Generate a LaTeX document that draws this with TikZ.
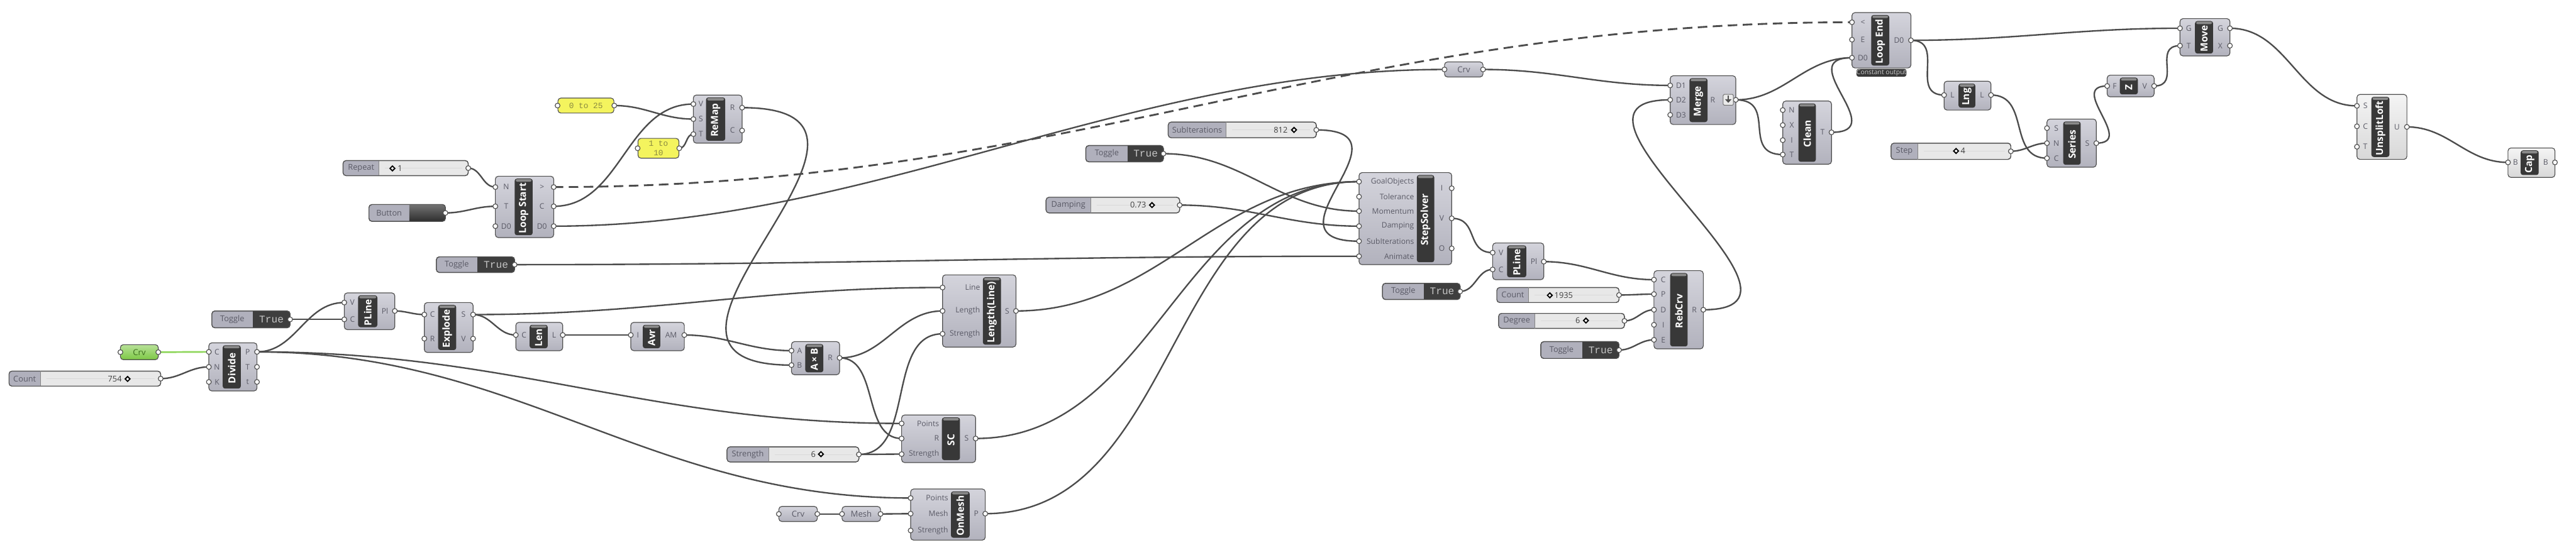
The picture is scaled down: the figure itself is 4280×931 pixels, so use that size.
\documentclass[tikz,border=0pt]{standalone}
\usepackage{fontspec}
\setmainfont{Open Sans}
\newfontfamily\gmono{Liberation Mono}
\usetikzlibrary{calc}
\pgfdeclarelayer{back}
\pgfdeclarelayer{bg}
\pgfsetlayers{back,bg,main}
\definecolor{bodytop}{HTML}{D4D4DC}
\definecolor{bodybot}{HTML}{B2B2BD}
\definecolor{lighttop}{HTML}{F4F4F4}
\definecolor{lightbot}{HTML}{D8D8D8}
\definecolor{edgec}{HTML}{505050}
\definecolor{stripc}{HTML}{383838}
\definecolor{handlec}{HTML}{8A8A8A}
\definecolor{lblc}{HTML}{5A5A66}
\definecolor{wirec}{HTML}{4C4C4C}
\definecolor{slL}{HTML}{B0B0BC}
\definecolor{slV}{HTML}{E8E8E8}
\definecolor{togD}{HTML}{3E3E3E}
\definecolor{togT}{HTML}{C4C4C4}
\definecolor{panY}{HTML}{F4F45E}
\definecolor{panT}{HTML}{8A8A40}
\definecolor{crvG}{HTML}{7DC845}
\definecolor{crvT}{HTML}{3C6E1E}
\definecolor{wireG}{HTML}{8ED65A}
\tikzset{
  gbody/.style={draw=edgec, line width=0.35pt, rounded corners=1.4pt, top color=bodytop, bottom color=bodybot, inner sep=0pt, outer sep=0pt},
  lbody/.style={gbody, top color=lighttop, bottom color=lightbot},
  greenbody/.style={gbody, top color=crvG!55!white, bottom color=crvG, text=crvT},
  sbody/.style={draw=edgec, line width=0.35pt, rounded corners=1.4pt, fill=slV, inner sep=0pt, outer sep=0pt},
  pdot/.style={circle, draw=edgec, fill=white, line width=0.35pt, inner sep=0pt, minimum size=2.3pt},
  plbl/.style={font=\fontsize{3.6}{4}\selectfont, text=lblc, inner sep=0pt},
  stxt/.style={font=\fontsize{4.6}{5}\selectfont\bfseries, text=white, rotate=90, inner sep=0pt},
  slbl/.style={font=\fontsize{3.8}{4}\selectfont, text=lblc, inner sep=0pt},
  sval/.style={font=\fontsize{3.8}{4}\selectfont, text=black!75, inner sep=0pt},
  ttxt/.style={font=\gmono\fontsize{4.8}{5}\selectfont, text=togT, inner sep=0pt},
  ptxt/.style={font=\gmono\fontsize{3.8}{4.6}\selectfont, text=panT, inner sep=0pt, align=center},
  wire/.style={draw=wirec, line width=0.7pt},
  gwire/.style={draw=wireG, line width=0.8pt},
}
% component: name x1 y1 x2 y2 stripx1 stripx2 title style
\newcommand\ghcomp[9]{%
  \def\exa{#2}\def\exb{#4}\def\sxa{#6}\def\sxb{#7}%
  \node[#9, minimum width={(#4-#2)*0.01cm}, minimum height={(#5-#3)*0.01cm}] (#1) at ({(#2+#4)/2},{(#3+#5)/2}) {};
  \fill[stripc, rounded corners=1.1pt] (#6,#3+4) rectangle (#7,#5-4);
  \fill[handlec, rounded corners=0.6pt] (#6+2,#3+5) rectangle (#7-2,#3+9);
  \node[stxt] (#1t) at ({(#6+#7)/2},{(#3+#5)/2+2}) {#8};
}
\newcommand\gin[3]{\coordinate (#1) at (\exa,#2);\node[plbl,anchor=east] (#1l) at (\sxa-4,#2) {#3};\node[pdot] (#1d) at (#1) {};}
\newcommand\gout[3]{\coordinate (#1) at (\exb,#2);\node[plbl,anchor=west] (#1l) at (\sxb+4,#2) {#3};\node[pdot] (#1d) at (#1) {};}
\newcommand\gic[3]{\coordinate (#1) at (\exa,#2);\node[plbl] (#1l) at ({(\exa+\sxa)/2+2},#2) {#3};\node[pdot] (#1d) at (#1) {};}
\newcommand\goc[3]{\coordinate (#1) at (\exb,#2);\node[plbl] (#1l) at ({(\exb+\sxb)/2-2},#2) {#3};\node[pdot] (#1d) at (#1) {};}
% slider: name x1 y1 x2 y2 split label
\newcommand\ghslider[7]{%
  \node[sbody, minimum width={(#4-#2)*0.01cm}, minimum height={(#5-#3)*0.01cm}] (#1) at ({(#2+#4)/2},{(#3+#5)/2}) {};
  \begin{scope}
    \clip[rounded corners=1.4pt] (#2,#3) rectangle (#4,#5);
    \fill[slL] (#2,#3) rectangle (#6,#5);
  \end{scope}
  \draw[edgec, line width=0.35pt, rounded corners=1.4pt] (#2,#3) rectangle (#4,#5);
  \draw[edgec!70, line width=0.3pt] (#6,#3) -- (#6,#5);
  \draw[black!15, line width=0.3pt] (#6+10,{(#3+#5)/2}) -- (#4-10,{(#3+#5)/2});
  \node[slbl] (#1l) at ({(#2+#6)/2},{(#3+#5)/2}) {#7};
  \node[pdot] (#1d) at (#1.east) {};
}
\newcommand\grip[2]{\draw[line width=0.55pt, fill=white] (#1-4,#2) -- (#1,#2-4) -- (#1+4,#2) -- (#1,#2+4) -- cycle;}
% toggle: name x1 y1 x2 y2 split
\newcommand\ghtoggle[6]{%
  \node[sbody, fill=slL, minimum width={(#4-#2)*0.01cm}, minimum height={(#5-#3)*0.01cm}] (#1) at ({(#2+#4)/2},{(#3+#5)/2}) {};
  \begin{scope}
    \clip[rounded corners=1.4pt] (#2,#3) rectangle (#4,#5);
    \fill[togD] (#6,#3) rectangle (#4,#5);
  \end{scope}
  \draw[edgec, line width=0.35pt, rounded corners=1.4pt] (#2,#3) rectangle (#4,#5);
  \node[slbl] (#1l) at ({(#2+#6)/2},{(#3+#5)/2}) {Toggle};
  \node[ttxt] (#1v) at ({(#6+#4)/2},{(#3+#5)/2}) {True};
  \node[pdot] (#1d) at (#1.east) {};
}
\newcommand\ghbutton[6]{%
  \node[sbody, fill=slL, minimum width={(#4-#2)*0.01cm}, minimum height={(#5-#3)*0.01cm}] (#1) at ({(#2+#4)/2},{(#3+#5)/2}) {};
  \begin{scope}
    \clip[rounded corners=1.4pt] (#2,#3) rectangle (#4,#5);
    \fill[top color=black!55, bottom color=black!82] (#6,#3) rectangle (#4,#5);
  \end{scope}
  \draw[edgec, line width=0.35pt, rounded corners=1.4pt] (#2,#3) rectangle (#4,#5);
  \node[slbl] (#1l) at ({(#2+#6)/2},{(#3+#5)/2}) {Button};
  \node[pdot] (#1d) at (#1.east) {};
}
\newcommand\ghpanel[6]{%
  \node[draw=edgec, line width=0.35pt, rounded corners=1.4pt, fill=panY, minimum width={(#4-#2)*0.01cm}, minimum height={(#5-#3)*0.01cm}, ptxt] (#1) at ({(#2+#4)/2},{(#3+#5)/2}) {#6};
  \node[pdot] (#1a) at (#1.west) {};
  \node[pdot] (#1b) at (#1.east) {};
}
\newcommand\ghparam[7]{%
  \node[font=\fontsize{3.9}{4}\selectfont, text=lblc, #7, minimum width={(#4-#2)*0.01cm}, minimum height={(#5-#3)*0.01cm}] (#1) at ({(#2+#4)/2},{(#3+#5)/2}) {#6};
  \node[pdot] (#1a) at (#1.west) {};
  \node[pdot] (#1b) at (#1.east) {};
}
\begin{document}
\begin{tikzpicture}[x=0.01cm,y=-0.01cm]
\useasboundingbox (0,0) rectangle (4280,931);
\begin{pgfonlayer}{back}
\fill[white] (0,0) rectangle (4280,931);
\end{pgfonlayer}

% ---------- left group
\ghparam{crvg}{200}{573}{263}{598}{Crv}{greenbody}
\ghslider{cnt1}{15}{617}{267}{642}{67}{Count}
\node[sval,anchor=east] (cnt1v) at (203,630) {754}; \grip{212}{630}
\ghcomp{div}{347}{570}{427}{650}{370}{400}{Divide}{gbody}
\gic{div-C}{585}{C}\gic{div-N}{610}{N}\gic{div-K}{635}{K}
\goc{div-P}{585}{P}\goc{div-T}{610}{T}\goc{div-t}{635}{t}

\ghslider{rep}{570}{267}{778}{292}{630}{Repeat}
\grip{652}{280}\node[sval,anchor=west] (repv) at (660,280) {1};
\ghbutton{btn}{613}{340}{740}{368}{680}
\ghcomp{ls}{823}{293}{920}{395}{855}{885}{Loop Start}{gbody}
\gic{ls-N}{311}{N}\gic{ls-T}{343}{T}\gic{ls-D0i}{376}{D0}
\goc{ls-gt}{311}{>}\goc{ls-C}{343}{C}\goc{ls-D0}{376}{D0}

\ghpanel{p025}{927}{163}{1020}{188}{0 to 25}
\ghpanel{p110}{1060}{230}{1128}{263}{1 to\\10}
\ghcomp{rm}{1152}{158}{1233}{238}{1173}{1205}{ReMap}{gbody}
\gic{rm-V}{173}{V}\gic{rm-S}{198}{S}\gic{rm-T}{223}{T}
\goc{rm-R}{179}{R}\goc{rm-C}{217}{C}

\ghtoggle{tg1}{352}{517}{482}{545}{420}
\ghcomp{pl1}{572}{487}{656}{548}{595}{627}{PLine}{gbody}
\gic{pl1-V}{503}{V}\gic{pl1-C}{531}{C}\goc{pl1-Pl}{517}{Pl}
\ghcomp{ex}{705}{503}{786}{586}{728}{758}{Explode}{gbody}
\gic{ex-C}{523}{C}\gic{ex-R}{563}{R}\goc{ex-S}{523}{S}\goc{ex-V}{563}{V}
\ghcomp{len}{857}{536}{935}{583}{880}{910}{Len}{gbody}
\gic{len-C}{557}{C}\goc{len-L}{557}{L}
\ghcomp{avr}{1048}{536}{1137}{583}{1068}{1097}{Avr}{gbody}
\gic{avr-I}{557}{I}\goc{avr-AM}{557}{AM}
\ghtoggle{tg2}{725}{427}{855}{453}{793}

\ghcomp{ab}{1315}{568}{1395}{623}{1338}{1368}{A\,×\,B}{gbody}
\gic{ab-A}{583}{A}\gic{ab-B}{607}{B}\goc{ab-R}{595}{R}
\ghcomp{ll}{1566}{457}{1688}{577}{1633}{1663}{Length(Line)}{gbody}
\gin{ll-Line}{478}{Line}\gin{ll-Length}{517}{Length}\gin{ll-Strength}{555}{Strength}\goc{ll-S}{517}{S}
\ghcomp{sc}{1498}{690}{1621}{769}{1565}{1595}{SC}{gbody}
\gin{sc-Points}{704}{Points}\gin{sc-R}{729}{R}\gin{sc-Strength}{755}{Strength}\goc{sc-S}{729}{S}
\ghslider{str}{1208}{743}{1427}{768}{1277}{Strength}
\node[sval,anchor=east] (strv) at (1356,755) {6}; \grip{1364}{755}
\ghcomp{om}{1513}{813}{1637}{898}{1580}{1611}{OnMesh}{gbody}
\gin{om-Points}{828}{Points}\gin{om-Mesh}{854}{Mesh}\gin{om-Strength}{882}{Strength}\goc{om-P}{854}{P}
\ghparam{crv2}{1294}{842}{1358}{867}{Crv}{gbody}
\ghparam{mesh}{1399}{842}{1463}{867}{Mesh}{gbody}

% ---------- solver group
\ghslider{sub}{1941}{203}{2187}{229}{2037}{SubIterations}
\node[sval,anchor=east] (subv) at (2140,216) {812}; \grip{2150}{216}
\ghtoggle{tg3}{1804}{242}{1933}{269}{1874}
\ghslider{damp}{1738}{328}{1960}{354}{1812}{Damping}
\node[sval,anchor=east] (dampv) at (1905,341) {0.73}; \grip{1914}{341}
\ghcomp{ss}{2258}{287}{2412}{440}{2354}{2383}{StepSolver}{gbody}
\gin{ss-GO}{302}{GoalObjects}\gin{ss-Tol}{327}{Tolerance}\gin{ss-Mom}{351}{Momentum}
\gin{ss-Damp}{376}{Damping}\gin{ss-Sub}{401}{SubIterations}\gin{ss-Anim}{426}{Animate}
\goc{ss-I}{313}{I}\goc{ss-V}{363}{V}\goc{ss-O}{413}{O}

\ghcomp{pl2}{2480}{404}{2565}{465}{2504}{2536}{PLine}{gbody}
\gic{pl2-V}{420}{V}\gic{pl2-C}{448}{C}\goc{pl2-Pl}{435}{Pl}
\ghtoggle{tg4}{2297}{471}{2426}{498}{2366}
\ghcomp{rb}{2748}{450}{2830}{580}{2775}{2804}{RebCrv}{gbody}
\gic{rb-C}{465}{C}\gic{rb-P}{489}{P}\gic{rb-D}{515}{D}\gic{rb-I}{540}{I}\gic{rb-E}{565}{E}
\goc{rb-R}{515}{R}
\ghslider{cnt2}{2487}{478}{2690}{503}{2540}{Count}
\grip{2575}{491}\node[sval,anchor=west] (cnt2v) at (2582,491) {1935};
\ghslider{deg}{2490}{521}{2699}{546}{2550}{Degree}
\node[sval,anchor=east] (degv) at (2626,533) {6}; \grip{2635}{533}
\ghtoggle{tg5}{2560}{568}{2690}{596}{2629}

% ---------- loop end group
\ghparam{crv3}{2400}{103}{2464}{128}{Crv}{gbody}
\ghcomp{mg}{2775}{126}{2884}{207}{2807}{2837}{Merge}{gbody}
\gic{mg-D1}{142}{D1}\gic{mg-D2}{166}{D2}\gic{mg-D3}{191}{D3}\gout{mg-R}{166}{R}
\draw[fill=black!8, draw=edgec!80, line width=0.3pt, rounded corners=0.5pt] (2863,157) rectangle (2880,175);
\fill[edgec] (2866,165) -- (2877,165) -- (2871.5,171) -- cycle;
\draw[edgec, line width=0.6pt] (2871.5,159) -- (2871.5,166);
\ghcomp{le}{3077}{21}{3175}{113}{3109}{3139}{Loop End}{gbody}
\gic{le-lt}{37}{<}\gic{le-E}{66}{E}\gic{le-D0i}{96}{D0}\goc{le-D0}{67}{D0}
\node[fill=stripc, rounded corners=1pt, text=white!80!black, font=\fontsize{3.1}{3.4}\selectfont, minimum width={82*0.01cm}, minimum height={13*0.01cm}, inner sep=0pt] (leco) at (3126,121) {Constant output};
\ghcomp{cl}{2962}{168}{3043}{273}{2988}{3017}{Clean}{gbody}
\gic{cl-N}{183}{N}\gic{cl-X}{208}{X}\gic{cl-I}{233}{I}\gic{cl-T}{257}{T}\goc{cl-To}{220}{T}
\ghcomp{lng}{3230}{135}{3308}{183}{3254}{3282}{Lng}{gbody}
\gic{lng-Li}{158}{L}\goc{lng-Lo}{158}{L}
\ghslider{step}{3142}{238}{3341}{265}{3186}{Step}
\grip{3250}{251}\node[sval,anchor=west] (stepv) at (3257,251) {4};
\ghcomp{ser}{3401}{198}{3483}{278}{3428}{3457}{Series}{gbody}
\gic{ser-S}{213}{S}\gic{ser-N}{238}{N}\gic{ser-C}{263}{C}\goc{ser-So}{238}{S}
\ghcomp{zz}{3501}{125}{3579}{161}{3522}{3552}{Z}{gbody}
\gic{zz-F}{143}{F}\goc{zz-V}{143}{V}
\ghcomp{mv}{3622}{31}{3705}{93}{3647}{3677}{Move}{gbody}
\gic{mv-G}{47}{G}\gic{mv-T}{76}{T}\goc{mv-Go}{47}{G}\goc{mv-X}{76}{X}
\ghcomp{ul}{3916}{157}{3999}{265}{3940}{3970}{UnsplitLoft}{lbody}
\gic{ul-S}{176}{S}\gic{ul-C}{210}{C}\gic{ul-T}{244}{T}\goc{ul-U}{211}{U}
\ghcomp{cap}{4167}{246}{4245}{295}{4188}{4218}{Cap}{lbody}
\gic{cap-Bi}{270}{B}\goc{cap-Bo}{270}{B}

% ---------- wires
\begin{pgfonlayer}{bg}
\draw[gwire] (crvg.east) -- (div-C);
\draw[wire] (cnt1.east) to[out=0,in=180] (div-N);
\draw[wire] (div-P) to[out=0,in=180] (pl1-V);
\draw[wire] (div-P) to[out=0,in=180] (sc-Points);
\draw[wire] (div-P) to[out=0,in=180] (om-Points);
\draw[wire] (tg1.east) to[out=0,in=180] (pl1-C);
\draw[wire] (pl1-Pl) to[out=0,in=180] (ex-C);
\draw[wire] (ex-S) to[out=0,in=180] (len-C);
\draw[wire] (ex-S) to[out=0,in=180] (ll-Line);
\draw[wire] (len-L) -- (avr-I);
\draw[wire] (avr-AM) to[out=0,in=180] (ab-A);
\draw[wire] (rm-R) to[out=0,in=180,looseness=2] (ab-B);
\draw[wire] (ab-R) to[out=0,in=180] (ll-Length);
\draw[wire] (ab-R) to[out=0,in=180] (sc-R);
\draw[wire] (str.east) to[out=0,in=180] (sc-Strength);
\draw[wire] (str.east) to[out=0,in=180] (ll-Strength);
\draw[wire] (crv2.east) -- (mesh.west);
\draw[wire] (mesh.east) -- (om-Mesh);
\draw[wire] (ll-S) to[out=0,in=180] (ss-GO);
\draw[wire] (sc-S) to[out=0,in=180] (ss-GO);
\draw[wire] (om-P) to[out=0,in=180] (ss-GO);
\draw[wire] (sub.east) to[out=0,in=180,looseness=2.2] (ss-Sub);
\draw[wire] (tg3.east) to[out=0,in=180] (ss-Mom);
\draw[wire] (damp.east) to[out=0,in=180] (ss-Damp);
\draw[wire] (tg2.east) to[out=0,in=180] (ss-Anim);
\draw[wire] (ss-V) to[out=0,in=180,looseness=1.3] (pl2-V);
\draw[wire] (tg4.east) to[out=0,in=180] (pl2-C);
\draw[wire] (pl2-Pl) to[out=0,in=180] (rb-C);
\draw[wire] (cnt2.east) to[out=0,in=180] (rb-P);
\draw[wire] (deg.east) to[out=0,in=180] (rb-D);
\draw[wire] (tg5.east) to[out=0,in=180] (rb-E);
\draw[wire] (rb-R) to[out=0,in=180,looseness=1.7] (mg-D2);
\draw[wire] (rep.east) to[out=0,in=180] (ls-N);
\draw[wire] (btn.east) to[out=0,in=180] (ls-T);
\draw[wire] (ls-C) to[out=0,in=180] (rm-V);
\draw[wire] (p025.east) to[out=0,in=180] (rm-S);
\draw[wire] (p110.east) to[out=0,in=180] (rm-T);
\draw[wire] (ls-D0) to[out=0,in=180,looseness=0.9] (crv3.west);
\draw[wire] (crv3.east) to[out=0,in=180] (mg-D1);
\draw[wire, line width=0.85pt, dash pattern=on 4.5pt off 2.6pt] (ls-gt) to[out=0,in=180] (le-lt);
\draw[wire] (mg-R) to[out=0,in=180] (le-D0i);
\draw[wire] (mg-R) to[out=0,in=180,looseness=1.5] (cl-T);
\draw[wire] (cl-To) to[out=0,in=180,looseness=2] (le-D0i);
\draw[wire] (le-D0) to[out=0,in=180] (mv-G);
\draw[wire] (le-D0) to[out=0,in=180,looseness=1.4] (lng-Li);
\draw[wire] (lng-Lo) to[out=0,in=180,looseness=1.2] (ser-C);
\draw[wire] (step.east) to[out=0,in=180] (ser-N);
\draw[wire] (ser-So) to[out=0,in=180,looseness=1.75] (zz-F);
\draw[wire] (zz-V) to[out=0,in=180,looseness=1.5] (mv-T);
\draw[wire] (mv-Go) to[out=0,in=180] (ul-S);
\draw[wire] (ul-U) to[out=0,in=180] (cap-Bi);
\end{pgfonlayer}
\end{tikzpicture}
\end{document}
